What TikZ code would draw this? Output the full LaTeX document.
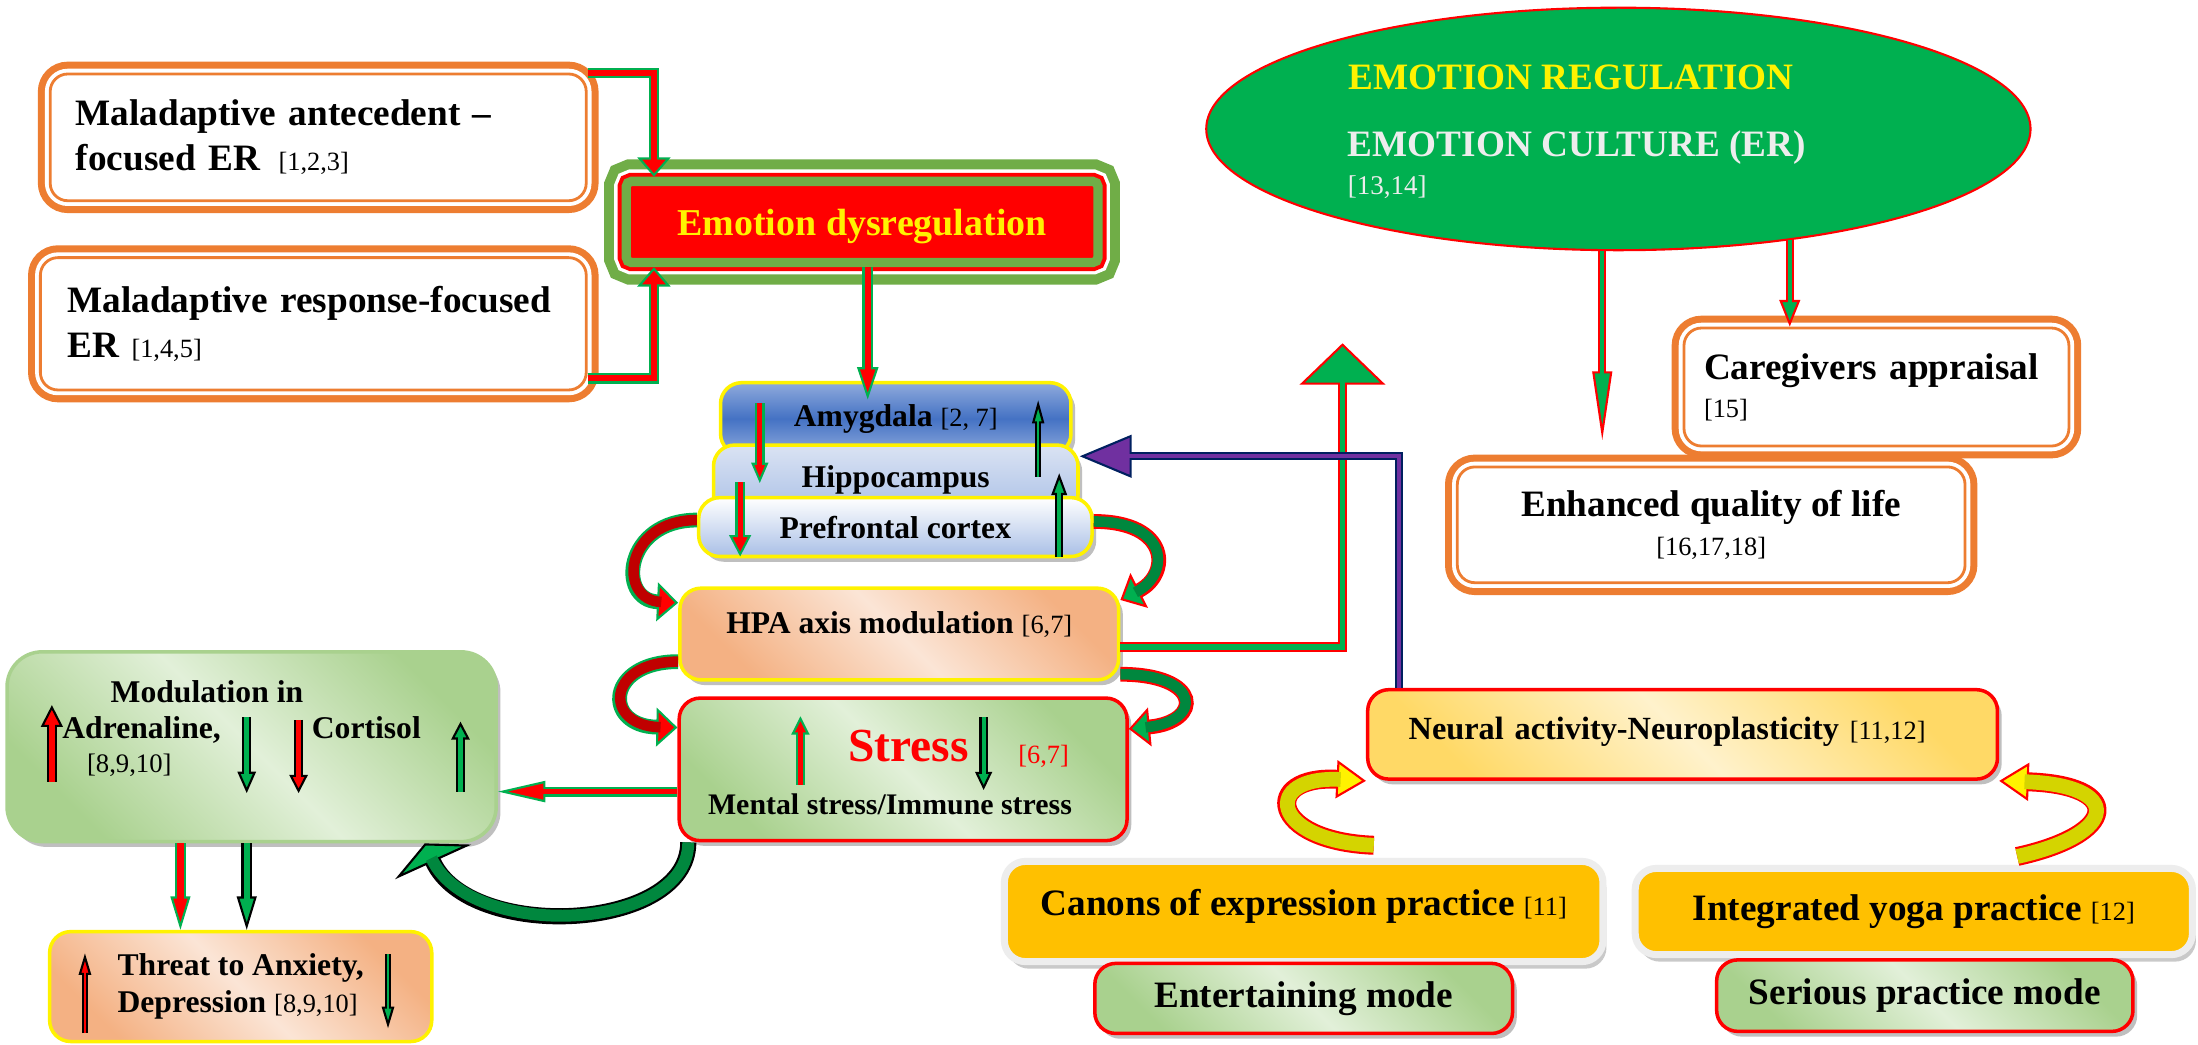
\documentclass[tikz,border=0pt]{standalone}
\usepackage{fontspec}
\setmainfont{Liberation Serif}
\usepackage{xcolor}
\usepackage{tikz}
\usetikzlibrary{arrows.meta,positioning,shapes.geometric,shadows}

\definecolor{boxorange}{HTML}{ED7D31}
\definecolor{argreen}{HTML}{00B050}
\definecolor{dkgreen}{HTML}{00873E}
\definecolor{ringgreen}{HTML}{70AD47}
\definecolor{dkred}{HTML}{C00000}
\definecolor{gold}{HTML}{FFC000}
\definecolor{arpurple}{HTML}{7030A0}
\definecolor{arnavy}{HTML}{002060}
\definecolor{lgreen}{HTML}{E2F0D9}
\definecolor{mgreen}{HTML}{A9D18E}
\definecolor{lpeach}{HTML}{FBE5D6}
\definecolor{mpeach}{HTML}{F4B183}
\definecolor{lyel}{HTML}{FFF2CC}
\definecolor{myel}{HTML}{FFD966}
\definecolor{blueA}{HTML}{8FAADC}
\definecolor{blueB}{HTML}{4472C4}
\definecolor{blueC}{HTML}{DAE3F3}
\definecolor{blueD}{HTML}{A9BFE6}
\definecolor{olivey}{HTML}{D4D400}
\definecolor{ertext}{HTML}{EDEDED}

\newcommand\pxu{0.014018cm}
\newcommand\bigfont{\fontsize{10.6}{12.8}\selectfont\bfseries}
\newcommand\midfont{\fontsize{9}{10.4}\selectfont\bfseries}
\newcommand\rf[1]{{\mdseries\fontsize{7.5}{9}\selectfont[#1]}}

\begin{document}
\begin{tikzpicture}[x=\pxu,y=-\pxu,
  boxsize/.style 2 args={minimum width=#1*\pxu,minimum height=#2*\pxu},
  obox/.style={draw=boxorange,line width=0.8pt,fill=white,rounded corners=5pt,inner sep=0pt,
    preaction={draw=boxorange,line width=7pt},preaction={draw=white,line width=3pt}},
  dysbox/.style={draw=ringgreen,line width=2.65pt,fill=red,rounded corners=1.5pt,
    preaction={draw=ringgreen,line width=12.5pt},preaction={draw=white,line width=6.8pt},
    preaction={draw=red,line width=4.9pt},text=yellow,text depth=0pt,
    font=\fontsize{10.8}{13}\selectfont\bfseries},
  shadowed/.style={drop shadow={shadow xshift=1.2pt,shadow yshift=-1.5pt,fill=black!45,opacity=0.55}},
  diag/.style 2 args={shade,left color=#1,right color=#1,middle color=#2,shading angle=135},
  rbox/.style={rounded corners=6pt,line width=1pt,inner sep=2pt,align=center,font=\midfont},
  goldbox/.style={rounded corners=6pt,fill=gold,draw=black!7,line width=2pt,font=\bigfont,
    drop shadow={shadow xshift=1pt,shadow yshift=-2pt,fill=black!35,opacity=0.6}},
  modebox/.style={rbox,draw=red,diag={mgreen}{lgreen},shadowed,font=\bigfont},
  lbl/.style={anchor=base west,inner sep=0pt,font=\midfont},
  ertxt/.style={anchor=base west,inner sep=0pt,font=\bigfont},
  barrow/.style n args={6}{draw=#3,line width=#4,line join=miter,
    -{Triangle[length=#6,width=#5,fill=#2,color=#3,line width=0.6pt]},
    postaction={draw=#1,line width=#4-1.2pt,-,shorten >=#6-1.2pt}}]
\fill[white] (0,0) rectangle (1568,745);
\useasboundingbox (0,0) rectangle (1568,745);

% maladaptive strategies
\node[obox,boxsize={382.4}{90.4},inner xsep=0.255cm,text width=4.85cm,align=left,font=\bigfont] (ante) at (227,98) {Maladaptive antecedent –\\focused ER\enspace\rf{1,2,3}};
\node[obox,boxsize={389.4}{94.4},inner xsep=0.27cm,text width=4.92cm,align=left,font=\bigfont] (resp) at (223.5,231) {Maladaptive response-focused\\ER \rf{1,4,5}};
\node[dysbox,boxsize={336.6}{57.9}] (dys) at (615,158.35) {Emotion dysregulation};

% brain stack
\node[rbox,draw=yellow,shade,top color=blueA,bottom color=blueA,middle color=blueB,shadowed,boxsize={250}{51.4}] (amy) at (639,298.7) {Amygdala \rf{2, 7}};
\node[rbox,draw=yellow,shade,top color=blueC,bottom color=blueD,shadowed,boxsize={260}{50.4}] (hip) at (639,342.7) {Hippocampus};
\node[rbox,draw=yellow,shade,top color=white,bottom color=blueD,shadowed,boxsize={280.6}{42}] (pfc) at (638.7,376) {Prefrontal cortex};
\node[rbox,draw=yellow,diag={mpeach}{lpeach},shadowed,text depth=6.5pt,boxsize={313}{65.4}] (hpa) at (641.5,452.3) {HPA axis modulation \rf{6,7}};

% stress
\node[rbox,draw=red,diag={mgreen}{lgreen},shadowed,boxsize={319.5}{101.7}] (stress) at (644.25,548.85) {};
\node[anchor=base west,inner sep=0pt,text=red,font=\fontsize{13.5}{15}\selectfont\bfseries] (strtxt) at (604.7,543.4) {Stress};
\node[anchor=base west,inner sep=0pt,text=red,font=\fontsize{7.5}{9}\selectfont] (strref) at (726,544.5) {[6,7]};
\node[lbl,font=\fontsize{8.5}{10}\selectfont\bfseries] (strsub) at (504.6,581.4) {Mental stress/Immune stress};

% hormones
\node[rbox,draw=mgreen,diag={mgreen}{lgreen},shadowed,rounded corners=10pt,boxsize={349}{135.4}] (mod) at (179.5,532.7) {};
\node[lbl] (modtxt) at (78.5,501.3) {Modulation in};
\node[lbl] (adrtxt) at (44,526.6) {Adrenaline,};
\node[lbl,font=\fontsize{7.6}{9}\selectfont] (adrref) at (61.6,551) {[8,9,10]};
\node[lbl] (cortxt) at (222,526.6) {Cortisol};
\node[rbox,draw=yellow,diag={mpeach}{lpeach},align=left,boxsize={272.6}{78.4}] (threat) at (171.7,703.8) {Threat to Anxiety,\\Depression \rf{8,9,10}};

% practices
\node[rbox,draw=red,diag={myel}{lyel},shadowed,font=\fontsize{9.2}{11}\selectfont\bfseries,inner xsep=0.41cm,text width=5.48cm,align=left,text depth=3.5pt,boxsize={448.6}{63.8}] (neu) at (1200.3,523.9) {Neural activity-Neuroplasticity \rf{11,12}};
\node[goldbox,text depth=5pt,boxsize={427}{71.5}] (canons) at (930,650.25) {Canons of expression practice \rf{11}};
\node[modebox,boxsize={298}{50},below=-1pt of canons] (ent) {Entertaining mode};
\node[goldbox,boxsize={397.5}{61.5}] (yoga) at (1365.25,650.25) {Integrated yoga practice \rf{12}};
\node[modebox,boxsize={297}{51},below=0pt of yoga,xshift=0.11cm] (ser) {Serious practice mode};

% regulation
\node[ellipse,draw=red,fill=argreen,line width=0.6pt,boxsize={588}{173},inner sep=0pt] (er) at (1154.5,92) {};
\node[ertxt,text=yellow] (ertitle) at (961.3,64.2) {EMOTION REGULATION};
\node[ertxt,text=ertext] (ersub) at (961,112) {EMOTION CULTURE (ER)};
\node[anchor=base west,inner sep=0pt,text=ertext,font=\fontsize{7.7}{9}\selectfont] (erref) at (961,139) {[13,14]};
\node[obox,boxsize={274.6}{84.2},inner xsep=0.2cm,text width=3.45cm,align=left,font=\bigfont] (care) at (1338.6,276.1) {Caregivers appraisal\\[-1.9pt]\rf{15}};
\node[obox,boxsize={362.2}{82.6},align=center,font=\bigfont] (qol) at (1220.7,374.4) {Enhanced quality of life\\[-1.9pt]\rf{16,17,18}};

\coordinate (amytip) at (619,285);
\coordinate (uptip) at (957.7,244.9);
\coordinate (qoltip) at (1143,314);
\coordinate (cantail) at (980,603);
\coordinate (yogtail) at (1439,611);

\draw[barrow={red}{red}{argreen}{2.9pt}{9.4pt}{5.5pt}] (ante.east |- 0,52) -| (466.5,0 |- dys.north);
\draw[barrow={red}{red}{argreen}{2.9pt}{9.4pt}{5.5pt}] (resp.east |- 0,270) -| (466.5,0 |- dys.south);
\draw[barrow={red}{red}{argreen}{3pt}{6pt}{9.2pt}] (619,0 |- dys.south) -- (amytip);
\draw[barrow={dkred}{red}{argreen}{4.2pt}{11pt}{6pt}] (pfc.west |- 0,371) .. controls (445,371) and (440,428) .. (hpa.west |- 0,430);
\draw[barrow={dkgreen}{argreen}{red}{4.2pt}{11pt}{6pt}] (pfc.east |- 0,372) .. controls (835,372) and (835,410) .. (hpa.east |- 0,428);
\draw[barrow={dkred}{red}{argreen}{4.2pt}{11pt}{6pt}] (hpa.west |- 0,472) .. controls (432,472) and (430,518) .. (stress.west |- 0,519);
\draw[barrow={dkgreen}{argreen}{red}{4.2pt}{11pt}{6pt}] (hpa.east |- 0,481) .. controls (858,481) and (858,515) .. (stress.east |- 0,520);
\draw[barrow={argreen}{argreen}{red}{2.8pt}{24.4pt}{11.8pt}] (hpa.east |- 0,461.7) -| (uptip);
\draw[barrow={arpurple}{arpurple}{arnavy}{2.4pt}{12.2pt}{14.8pt}] (998,0 |- neu.north) |- (hip.east |- 0,325.5);
\draw[barrow={red}{red}{argreen}{2.8pt}{6pt}{13.5pt}] (stress.west |- 0,564.7) -- (mod.east |- 0,564.7);
\draw[barrow={red}{red}{argreen}{3pt}{5.6pt}{9.5pt}] (128.7,0 |- mod.south) -- (128.7,0 |- threat.north);
\draw[barrow={argreen}{argreen}{black}{3pt}{5.6pt}{9.5pt}] (176,0 |- mod.south) -- (176,0 |- threat.north);
\draw[barrow={dkgreen}{argreen}{black}{4.6pt}{23.8pt}{5.8pt}] (491,0 |- stress.south) .. controls (491,665) and (335,672) .. (303,0 |- mod.south);
\draw[barrow={argreen}{argreen}{red}{2.4pt}{5.6pt}{19.6pt}] (1143,0 |- er.south) -- (qoltip);
\draw[barrow={argreen}{argreen}{red}{2.4pt}{5.9pt}{7.6pt}] (er.-33.5) -- (er.-33.5 |- care.north);
\draw[barrow={olivey}{yellow}{red}{5.4pt}{10.8pt}{8.4pt}] (cantail) .. controls (905,600) and (900,553) .. (neu.south west);
\draw[barrow={olivey}{yellow}{red}{5.4pt}{10.8pt}{8.4pt}] (yogtail) .. controls (1512,595) and (1515,560) .. (neu.south east);

% up and down marks
\draw[barrow={red}{red}{argreen}{2.7pt}{4.8pt}{5.8pt}] (542,287.5) -- (542,344.6);
\draw[barrow={red}{red}{argreen}{2.7pt}{6.2pt}{6.1pt}] (528,344) -- (528,397);
\draw[barrow={argreen}{argreen}{black}{1.6pt}{3.4pt}{6.6pt}] (740.6,340) -- (740.6,285.5);
\draw[barrow={argreen}{argreen}{black}{2.4pt}{4.4pt}{6.2pt}] (755.6,397) -- (755.6,337.6);
\draw[barrow={red}{red}{argreen}{2.5pt}{5.1pt}{5.2pt}] (571,560) -- (571,511);
\draw[barrow={argreen}{argreen}{black}{2.4pt}{4.8pt}{5.2pt}] (701.7,511.5) -- (701.7,563.6);
\draw[barrow={red}{red}{black}{3pt}{6.2pt}{6.2pt}] (37,557.6) -- (37,503);
\draw[barrow={argreen}{argreen}{black}{2.6pt}{5.2pt}{6.1pt}] (176,511.5) -- (176,565.8);
\draw[barrow={red}{red}{black}{2.6pt}{5.2pt}{5.2pt}] (213,513.6) -- (213,565.8);
\draw[barrow={argreen}{argreen}{black}{2.6pt}{5.2pt}{5.1pt}] (328.5,564.8) -- (328.5,514.8);
\draw[barrow={red}{red}{black}{1.6pt}{3.5pt}{6.2pt}] (60.6,737) -- (60.6,680);
\draw[barrow={argreen}{argreen}{black}{1.6pt}{3.5pt}{6.2pt}] (276.8,680.7) -- (276.8,733.6);
\end{tikzpicture}
\end{document}
